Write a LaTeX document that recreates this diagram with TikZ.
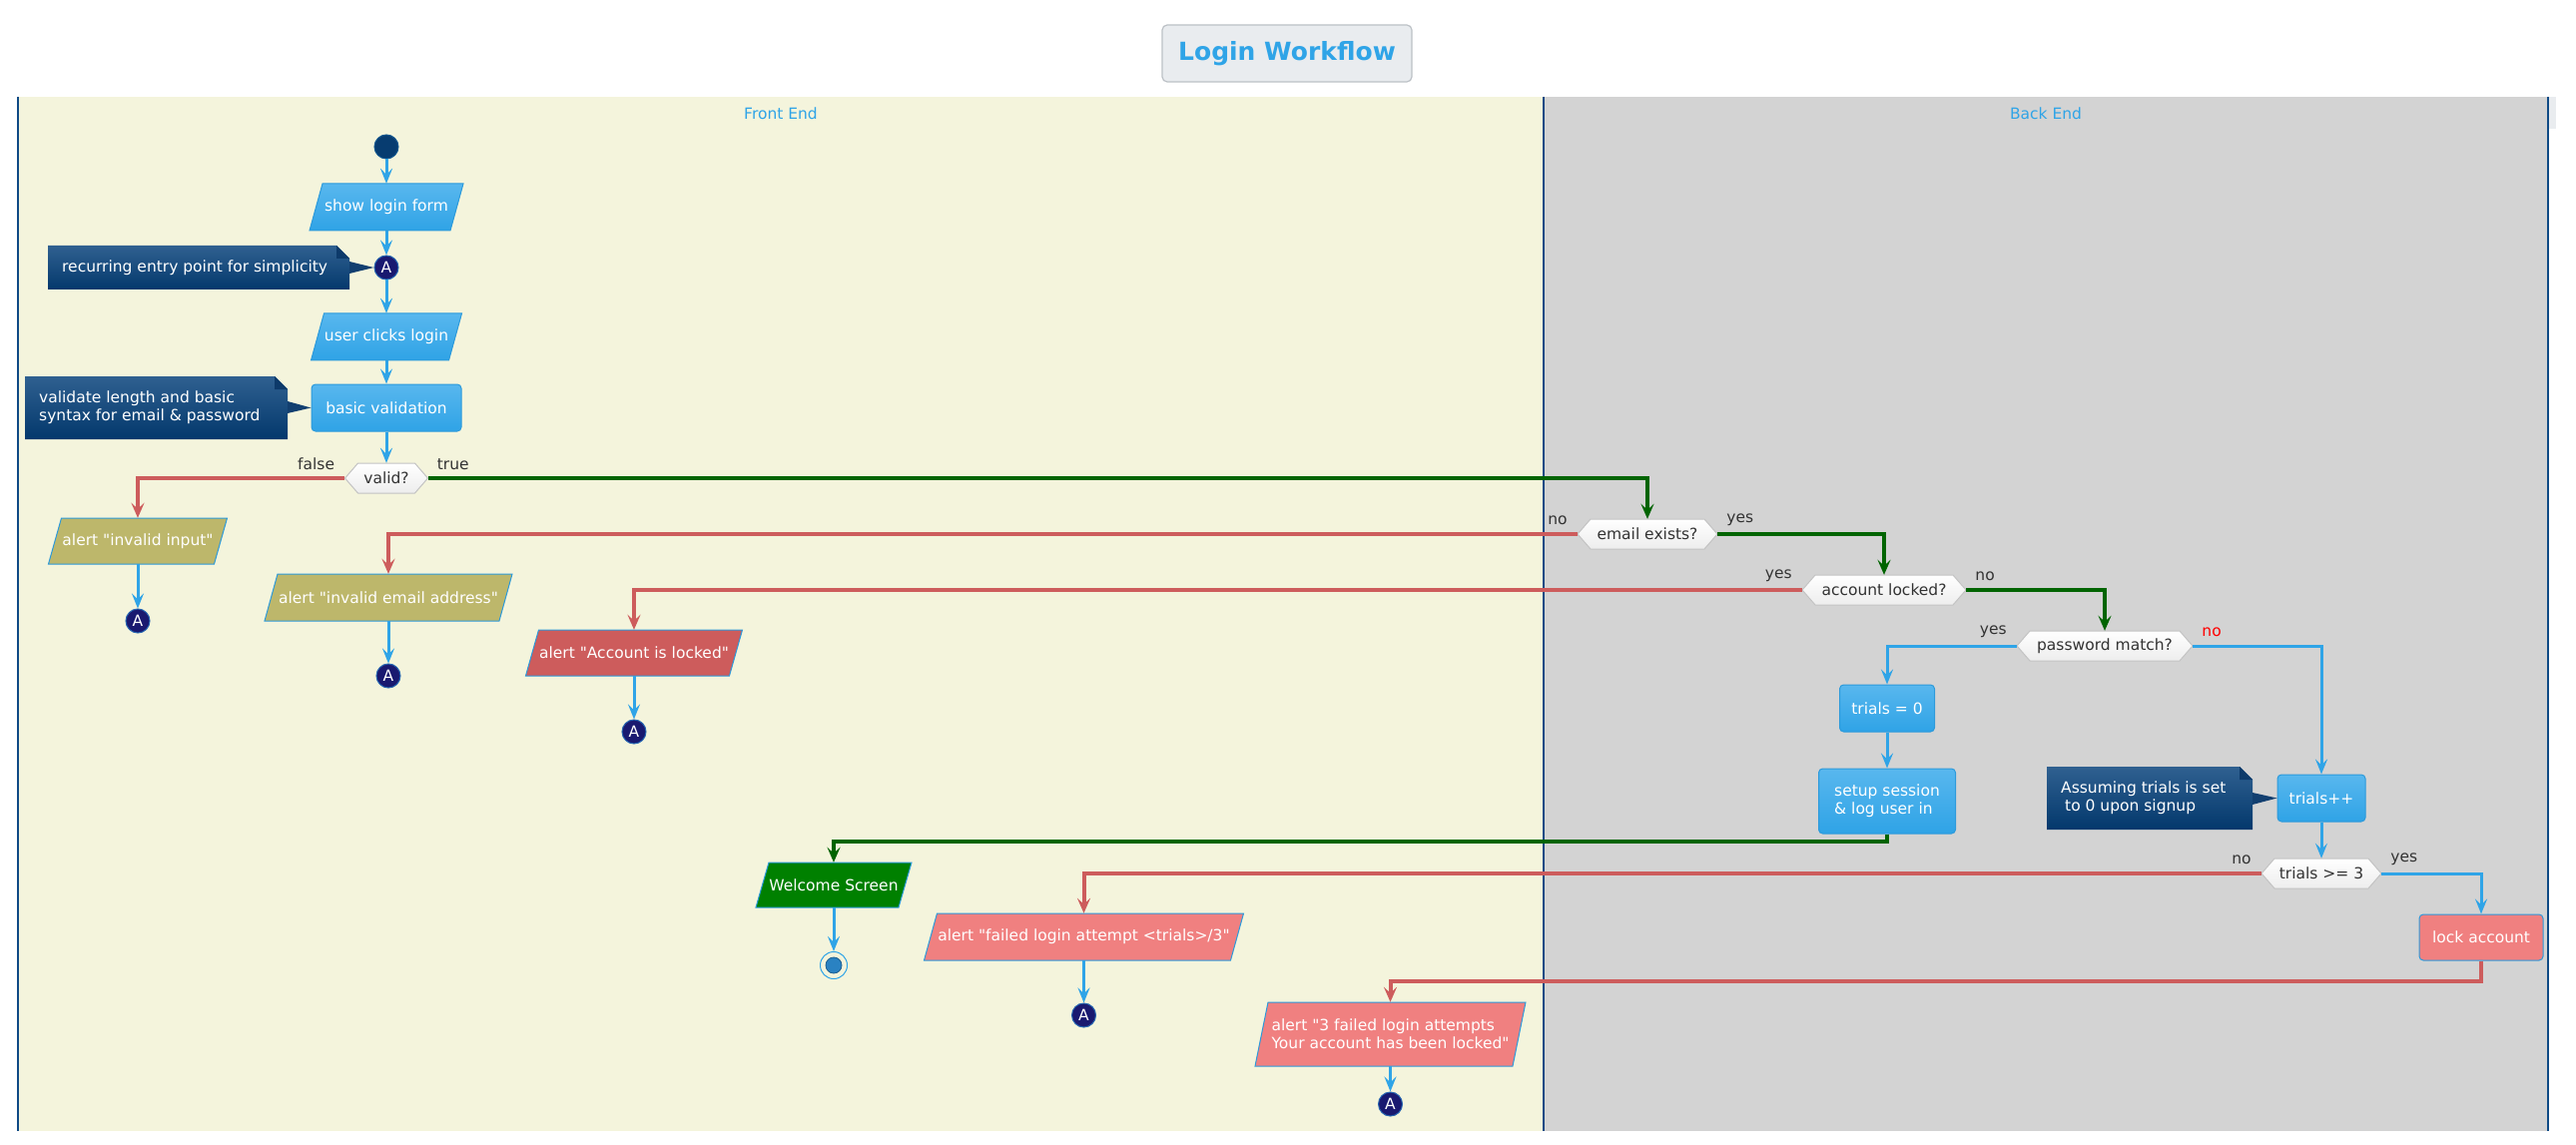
\documentclass[tikz,border=0pt]{standalone}
\usepackage{fontspec}
\setmainfont{DejaVu Sans}
\newfontfamily\dvs{DejaVu Sans}
\usetikzlibrary{arrows.meta}
\definecolor{laneA}{HTML}{F4F4DC}
\definecolor{laneB}{HTML}{D3D3D3}
\definecolor{laneline}{HTML}{0F4A85}
\definecolor{cer}{HTML}{2FA4E7}
\definecolor{btop}{HTML}{58B7EE}
\definecolor{bbot}{HTML}{2FA3E6}
\definecolor{bline}{HTML}{2C9ADB}
\definecolor{ntop}{HTML}{2F6090}
\definecolor{nbot}{HTML}{03386C}
\definecolor{nfold}{HTML}{0D3A6A}
\definecolor{npoint}{HTML}{123F70}
\definecolor{khaki}{HTML}{BDB76B}
\definecolor{ired}{HTML}{CD5C5C}
\definecolor{lcoral}{HTML}{F08080}
\definecolor{wgreen}{HTML}{008000}
\definecolor{dgreen}{HTML}{006400}
\definecolor{midnight}{HTML}{191970}
\definecolor{startc}{HTML}{073C70}
\definecolor{txtgrey}{HTML}{333333}
\definecolor{hexline}{HTML}{C3C3C3}
\definecolor{hexbot}{HTML}{EDEDED}
\definecolor{titlebg}{HTML}{E9ECEF}
\definecolor{titleline}{HTML}{BCC1C6}
\definecolor{endin}{HTML}{2A82C2}
\definecolor{endline}{HTML}{1F5F8F}
\definecolor{redlbl}{HTML}{FF0000}

% parallelogram: name, cx, cy, w, h, fill style, text
\newcommand\mkpara[7]{%
  \path[draw=bline, line width=1pt, #6] (#2-#4/2,#3+#5/2) -- (#2-#4/2+13,#3-#5/2) -- (#2+#4/2,#3-#5/2) -- (#2+#4/2-13,#3+#5/2) -- cycle;
  \node[boxtext, minimum width=#4pt, minimum height=#5pt] (#1) at (#2,#3) {#7};
}
% hexagon: name, cx, cy, w, text
\newcommand\mkhex[5]{%
  \path[hexshape] (#2-#4/2,#3) -- (#2-#4/2+13,#3-15) -- (#2+#4/2-13,#3-15) -- (#2+#4/2,#3) -- (#2+#4/2-13,#3+15) -- (#2-#4/2+13,#3+15) -- cycle;
  \node[hextext, minimum width=#4pt, minimum height=30pt] (#1) at (#2,#3) {#5};
}
% note: name, x1, y1, x2, y2, pointer y, target, text
\newcommand\mknote[8]{%
  \path[notebody] (#2,#3) -- (#4-13,#3) -- (#4,#3+13) -- (#4,#5) -- (#2,#5) -- cycle;
  \fill[nfold] (#4-13,#3) -- (#4-13,#3+13) -- (#4,#3+13) -- cycle;
  \fill[npoint] (#4,#6-6) -- (#7) -- (#4,#6+6) -- cycle;
  \node[notetext, anchor=west] (#1) at (#2+14,0.5*#3+0.5*#5) {#8};
}

\begin{document}
\begin{tikzpicture}[x=1pt,y=-1pt,
  font=\dvs\fontsize{15.5}{18.3}\selectfont,
  boxtext/.style={text=white, inner sep=0pt, align=left},
  bluefill/.style={top color=btop, bottom color=bbot},
  actbox/.style={rectangle, rounded corners=4pt, draw=bline, line width=1pt, top color=btop, bottom color=bbot, text=white, inner sep=0pt, align=left},
  redbox/.style={rectangle, rounded corners=4pt, draw=bline, line width=1pt, fill=lcoral, text=white, inner sep=0pt},
  hexshape/.style={draw=hexline, line width=1pt, top color=white, bottom color=hexbot},
  hextext/.style={text=txtgrey, inner sep=0pt},
  conn/.style={circle, fill=midnight, draw=cer!55!midnight, line width=1pt, minimum size=24pt, inner sep=0pt, text=white},
  notebody/.style={top color=ntop, bottom color=nbot},
  notetext/.style={text=white, align=left, inner sep=0pt},
  lbl/.style={text=txtgrey, inner sep=0pt},
  barrow/.style={draw=cer, line width=3pt, -{Stealth[length=15pt,width=12pt,inset=6pt]}},
  rarrow/.style={draw=ired, line width=4pt, -{Stealth[length=15pt,width=13pt,inset=6pt]}},
  garrow/.style={draw=dgreen, line width=4pt, -{Stealth[length=15pt,width=13pt,inset=6pt]}}
]
\useasboundingbox (0,0) rectangle (2580,1147);
\fill[white] (0,0) rectangle (2580,1147);
% swimlanes
\fill[laneA] (18,97) rectangle (1546,1133);
\fill[laneB] (1546,97) rectangle (2552,1133);
\fill[titlebg] (2553,97) rectangle (2560,129);
\draw[laneline, line width=2.5pt] (18,97) -- (18,1133) (1546,97) -- (1546,1133) (2552,97) -- (2552,1133);
\node[text=cer, inner sep=0pt] (laneFE) at (782,114) {Front End};
\node[text=cer, inner sep=0pt] (laneBE) at (2049,114) {Back End};
% title
\node[draw=titleline, fill=titlebg, line width=1.2pt, rounded corners=5pt, minimum width=250pt, minimum height=57pt, text=cer, font=\dvs\fontsize{25}{30}\selectfont\bfseries] (title) at (1289,53.5) {Login Workflow};

% front end column
\node[circle, fill=startc, draw=startc!75!cer, line width=1pt, minimum size=24pt, inner sep=0pt] (start) at (387,147) {};
\mkpara{show}{387}{207.5}{154}{47}{bluefill}{show login form}
\node[conn] (a0) at (387,268) {A};
\mkpara{user}{387}{337.5}{151}{47}{bluefill}{user clicks login}
\node[actbox, minimum width=150pt, minimum height=47pt] (basic) at (387,408.5) {basic validation};
\mkhex{valid}{387}{479}{83}{valid?}
\mkpara{inv1}{138}{542}{179}{46}{fill=khaki}{alert "invalid input"}
\node[conn] (a1) at (138,622) {A};
\mkpara{inv2}{389}{598.5}{248}{47}{fill=khaki}{alert "invalid email address"}
\node[conn] (a2) at (389,677) {A};
\mkpara{lka}{635}{654}{217}{46}{fill=ired}{alert "Account is locked"}
\node[conn] (a3) at (635,733) {A};
\mkpara{welcome}{835}{886.5}{156}{45}{fill=wgreen}{Welcome Screen}
\node[circle, draw=cer, line width=1pt, minimum size=27pt, inner sep=0pt] (stop) at (835,967) {};
\fill[endin, draw=endline, line width=0.8pt] (stop.center) circle (8pt);
\mkpara{fail}{1085.5}{938.5}{320}{47}{fill=lcoral}{alert "failed login attempt <trials>/3"}
\node[conn] (a4) at (1085.5,1017) {A};
\mkpara{alert3}{1392.5}{1036}{271}{64}{fill=lcoral}{alert "3 failed login attempts\\Your account has been locked"}
\node[conn] (a5) at (1392.5,1106) {A};

% back end column
\mkhex{email}{1650}{535}{140}{email exists?}
\mkhex{locked}{1887}{591}{164}{account locked?}
\mkhex{pwd}{2108}{647}{176}{password match?}
\node[actbox, minimum width=95pt, minimum height=47pt] (t0) at (1890,709.5) {trials = 0};
\node[actbox, minimum width=137pt, minimum height=65pt] (setup) at (1890,802.5) {setup session\\\& log user in};
\node[actbox, minimum width=88pt, minimum height=47pt] (tinc) at (2325,799.5) {trials++};
\mkhex{t3}{2325}{875}{120}{trials >= 3}
\node[redbox, minimum width=124pt, minimum height=46pt] (lock) at (2485,939) {lock account};

% notes
\mknote{note1}{48}{246}{350}{290}{268}{a0.west}{recurring entry point for simplicity}
\mknote{note2}{25}{377}{288}{440}{408}{basic.west}{validate length and basic\\syntax for email \& password}
\mknote{note3}{2050}{768}{2256}{831}{800}{tinc.west}{Assuming trials is set\\\hspace*{4pt}to 0 upon signup}

% connectors
\draw[barrow] (start.south) -- (show.north);
\draw[barrow] (show.south) -- (a0.north);
\draw[barrow] (a0.south) -- (user.north);
\draw[barrow] (user.south) -- (basic.north);
\draw[barrow] (basic.south) -- (valid.north);
\draw[rarrow] (valid.west) -| (inv1.north);
\draw[barrow] (inv1.south) -- (a1.north);
\draw[garrow] (valid.east) -| (email.north);
\draw[rarrow] (email.west) -| (inv2.north);
\draw[barrow] (inv2.south) -- (a2.north);
\draw[garrow] (email.east) -| (locked.north);
\draw[rarrow] (locked.west) -| (lka.north);
\draw[barrow] (lka.south) -- (a3.north);
\draw[garrow] (locked.east) -| (pwd.north);
\draw[barrow] (pwd.west) -| (t0.north);
\draw[barrow] (t0.south) -- (setup.north);
\draw[garrow] (setup.south) -- ++(0,7) -| (welcome.north);
\draw[barrow] (welcome.south) -- (stop.north);
\draw[barrow] (pwd.east) -| (tinc.north);
\draw[barrow] (tinc.south) -- (t3.north);
\draw[rarrow] (t3.west) -| (fail.north);
\draw[barrow] (fail.south) -- (a4.north);
\draw[barrow] (t3.east) -| (lock.north);
\draw[rarrow] (lock.south) -- ++(0,20) -| (alert3.north);
\draw[barrow] (alert3.south) -- (a5.north);

% branch labels
\node[lbl, anchor=east] (lfalse) at ([shift={(-10,-14)}]valid.west) {false};
\node[lbl, anchor=west] (ltrue) at ([shift={(9,-14)}]valid.east) {true};
\node[lbl, anchor=east] (lemno) at ([shift={(-10,-14)}]email.west) {no};
\node[lbl, anchor=west] (lemyes) at ([shift={(9,-14)}]email.east) {yes};
\node[lbl, anchor=east] (llkyes) at ([shift={(-10,-14)}]locked.west) {yes};
\node[lbl, anchor=west] (llkno) at ([shift={(9,-14)}]locked.east) {no};
\node[lbl, anchor=east] (lpwyes) at ([shift={(-10,-14)}]pwd.west) {yes};
\node[lbl, anchor=west, text=redlbl] (lpwno) at ([shift={(9,-14)}]pwd.east) {no};
\node[lbl, anchor=east] (lt3no) at ([shift={(-10,-14)}]t3.west) {no};
\node[lbl, anchor=west] (lt3yes) at ([shift={(9,-14)}]t3.east) {yes};
\end{tikzpicture}
\end{document}
